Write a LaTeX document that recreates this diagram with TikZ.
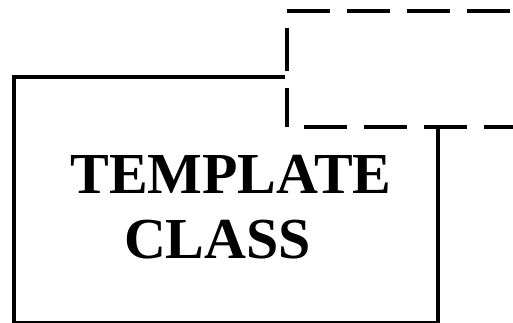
\documentclass[tikz,border=0pt]{standalone}
\usepackage{fontspec}
\setmainfont{Liberation Serif}
\usepackage{tikz}

\begin{document}
\begin{tikzpicture}[x=1pt,y=1pt,line width=4pt,
    every node/.style={font=\bfseries\fontsize{58}{65}\selectfont}]
  \useasboundingbox (0,0) rectangle (513,322);
  \clip (0,0) rectangle (513,322);
  % template box
  \draw[line join=miter] (285,245.5) -- (13.5,245.5) -- (13.5,-1.3)
     -- (437.5,-1.3) -- (437.5,195);
  % parameter box
  \draw[dash pattern=on 43pt off 17pt] (570,311) -- (287,311) -- (287,195);
  \draw[dash pattern=on 43pt off 17pt,dash phase=43pt] (287,195) -- (530,195);
  \node[align=center,inner sep=0pt] (label) at (231,115)
     {TEMPLATE\\CLASS\hspace*{27pt}};
\end{tikzpicture}
\end{document}
